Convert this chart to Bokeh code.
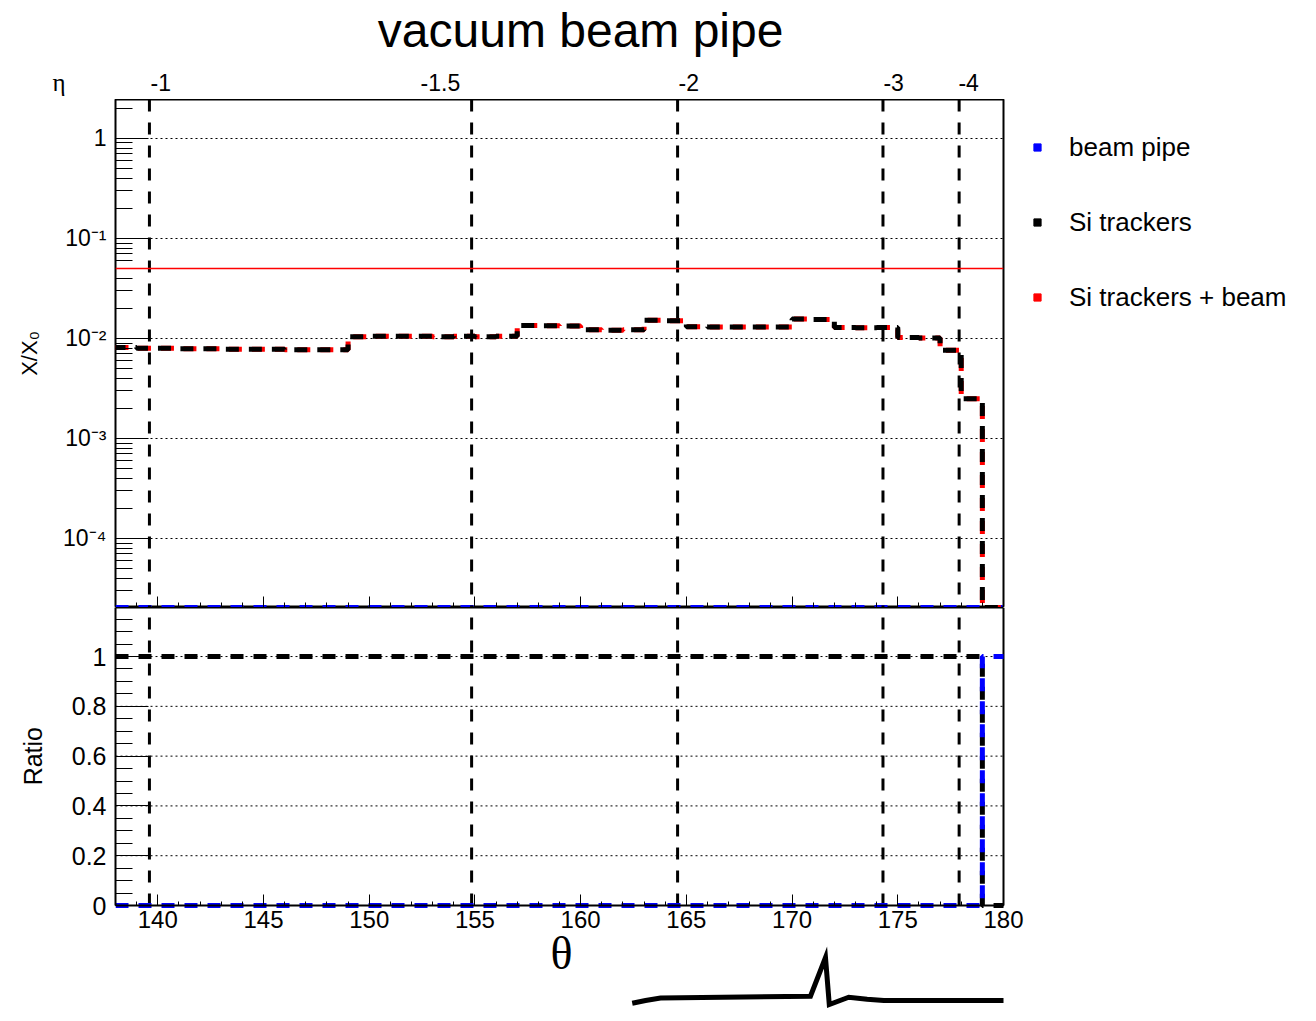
import math

from bokeh.core.properties import value
from bokeh.embed import file_html
from bokeh.layouts import column
from bokeh.models import FixedTicker, Label, Legend, LegendItem, LinearAxis, Range1d, Span
from bokeh.plotting import figure
from bokeh.resources import INLINE

# ---------------------------------------------------------------- data ----
# polar-angle bin edges in degrees (1-degree bins)
theta_edges = list(range(138, 181))

# material budget X/X0 per bin
si_trackers = [
    0.0081, 0.0080, 0.0080, 0.0079, 0.0079, 0.0078, 0.0078, 0.0078, 0.0077, 0.0077, 0.0077,
    0.0104, 0.0105, 0.0105, 0.0105, 0.0104, 0.0105, 0.0104, 0.0105,
    0.0135, 0.0134, 0.0133,
    0.0122, 0.0121, 0.0122,
    0.0152, 0.0150,
    0.0131, 0.0130, 0.0130, 0.0130, 0.0130,
    0.0156, 0.0155,
    0.0129, 0.0128, 0.0129,
    0.0102, 0.0101,
    0.0076,
    0.0025,
    0.0,
]
si_trackers_beam = [
    0.0081, 0.0080, 0.0080, 0.0079, 0.0079, 0.0078, 0.0078, 0.0078, 0.0077, 0.0077, 0.0077,
    0.0104, 0.0105, 0.0105, 0.0105, 0.0104, 0.0105, 0.0104, 0.0105,
    0.0135, 0.0134, 0.0133,
    0.0122, 0.0121, 0.0122,
    0.0152, 0.0150,
    0.0131, 0.0130, 0.0130, 0.0130, 0.0130,
    0.0156, 0.0155,
    0.0129, 0.0128, 0.0129,
    0.0102, 0.0101,
    0.0076,
    0.0025,
    0.0,
]
beam_pipe = [0.0] * 42

# ratios to the total
ratio_si = [1.0] * 41 + [0.0]
ratio_beam = [0.0] * 41 + [1.0]

# pseudorapidity markers and their labels (labels start at eta_text_theta)
eta_marks = [-1.0, -1.5, -2.0, -3.0, -4.0]
eta_text = ["-1", "-1.5", "-2", "-3", "-4"]
eta_text_theta = [139.66, 152.43, 164.63, 174.32, 177.87]

budget_limit = 0.05

x_ticks = [140, 145, 150, 155, 160, 165, 170, 175, 180]
decade_ticks = [1e-4, 1e-3, 1e-2, 1e-1, 1.0]
decade_text = ["10\u207b\u2074", "10\u207b\u00b3", "10\u207b\u00b2", "10\u207b\u00b9", "1"]
ratio_ticks = [0.0, 0.2, 0.4, 0.6, 0.8, 1.0]
ratio_text = ["0", "0.2", "0.4", "0.6", "0.8", "1"]

# pen trace below the theta axis (height within the bottom strip, 0..1)
trace_theta = [162.44, 163.07, 163.78, 170.87, 171.58, 171.76, 172.68, 173.55, 174.34, 180.0]
trace_y = [0.218, 0.250, 0.280, 0.301, 0.762, 0.202, 0.289, 0.265, 0.250, 0.250]

# -------------------------------------------------------------- styling ---
SANS = "Liberation Sans"
SERIF = "Liberation Serif"
X_LO, X_HI = 138, 180
Y_LO, Y_HI = 2.04e-5, 2.45
R_LO, R_HI = 0.0, 1.197
DASH = "13 10"
GRID_DASH = "2 3"
LEFT, FRAME_W, RIGHT, SPILL = 115, 888, 313, 32
HEAD_H, TOP_H, RATIO_H, FOOT_H, STRIP_H = 99, 508, 298, 116, 84
PX_PER_DEG = FRAME_W / (X_HI - X_LO)
RATIO_TITLE_AT = 0.717   # rotated title ends here, so it is centred on the box
NAN = float("nan")

eta_theta = [2.0 * math.degrees(math.atan(math.exp(-e))) for e in eta_marks]
log_minor = [k * 10.0 ** e for e in range(-5, 1) for k in range(2, 10)
             if Y_LO <= k * 10.0 ** e <= Y_HI]
ratio_minor = [round(0.05 * i, 2) for i in range(0, 24)]


def step_xy(vals, floor):
    y = [v if v > floor else floor for v in vals]
    return theta_edges, y + [y[-1]]


def style_ticks(ax, size, tick_in, minor_in, standoff):
    ax.axis_line_color = None
    ax.major_tick_out = 0
    ax.minor_tick_out = 0
    ax.major_tick_in = tick_in
    ax.minor_tick_in = minor_in
    ax.major_tick_line_color = "black"
    ax.minor_tick_line_color = "black"
    ax.major_tick_line_width = 1
    ax.minor_tick_line_width = 1
    ax.major_label_text_font = SANS
    ax.major_label_text_font_size = size
    ax.major_label_text_color = "black"
    ax.major_label_standoff = standoff


def style_title(ax, text, size, standoff):
    ax.axis_label = text
    ax.axis_label_text_font = SANS
    ax.axis_label_text_font_size = size
    ax.axis_label_text_font_style = "normal"
    ax.axis_label_text_color = "black"
    ax.axis_label_standoff = standoff


def bare(p):
    p.outline_line_color = None
    p.background_fill_color = "white"
    p.border_fill_color = "white"
    p.grid.visible = False


xr = Range1d(X_LO, X_HI)

# ------------------------------------------------ header: title and eta ---
p0 = figure(frame_width=FRAME_W, frame_height=HEAD_H, x_range=xr, y_range=Range1d(0, HEAD_H),
            x_axis_location=None, output_backend="svg", toolbar_location=None,
            min_border_left=LEFT, min_border_right=RIGHT, min_border_top=0, min_border_bottom=0)
bare(p0)
# the eta axis symbol sits left of the frame, as the label of a single tick
p0.yaxis.ticker = FixedTicker(ticks=[17])
p0.yaxis.major_label_overrides = {17: "\u03b7"}
style_ticks(p0.yaxis[0], "25px", 0, 0, 50)
p0.yaxis.major_label_text_font = SERIF
p0.yaxis.major_tick_line_color = None
p0.yaxis.minor_tick_line_color = None

p0.text(x=[160.0], y=[69], text=["vacuum beam pipe"], text_font=value(SANS),
        text_font_size=value("48px"), text_align="center", text_baseline="middle",
        text_color="black")
p0.text(x=eta_text_theta, y=[17] * len(eta_text), text=eta_text, text_font=value(SANS),
        text_font_size=value("23px"), text_align="left", text_baseline="middle",
        text_color="black")

# ------------------------------------------------------- X/X0 panel -------
p1 = figure(frame_width=FRAME_W, frame_height=TOP_H, x_range=xr, y_range=Range1d(Y_LO, Y_HI),
            y_axis_type="log", output_backend="svg", toolbar_location=None,
            min_border_left=LEFT, min_border_right=RIGHT, min_border_top=0, min_border_bottom=0)
p1.outline_line_color = "black"
p1.outline_line_width = 2
p1.background_fill_color = "white"
p1.border_fill_color = "white"

yt = FixedTicker(ticks=decade_ticks, minor_ticks=log_minor)
p1.yaxis.ticker = yt
p1.ygrid.ticker = yt
p1.yaxis.major_label_overrides = dict(zip(decade_ticks, decade_text))
style_ticks(p1.yaxis[0], "23px", 33, 17, 9)
style_title(p1.yaxis[0], "X/X\u2080", "22px", 18)

p1.xaxis.ticker = FixedTicker(ticks=x_ticks, minor_ticks=theta_edges)
p1.xaxis.fixed_location = Y_LO
style_ticks(p1.xaxis[0], "23px", 11, 5, 0)
p1.xaxis.major_label_text_color = None

p1.xgrid.visible = False
p1.ygrid.grid_line_color = "black"
p1.ygrid.grid_line_dash = GRID_DASH
p1.ygrid.grid_line_width = 1

for t in eta_theta:
    p1.add_layout(Span(location=t, dimension="height", line_color="black",
                       line_width=3, line_dash="12 11"))
p1.add_layout(Span(location=budget_limit, dimension="width", line_color="red", line_width=1.5))

bx, by = step_xy(beam_pipe, Y_LO)
p1.step(bx, by, mode="after", line_color="blue", line_width=5, line_dash=DASH)
rx, ry = step_xy(si_trackers_beam, Y_LO)
p1.step(rx, ry, mode="after", line_color="red", line_width=5, line_dash=DASH)
kx, ky = step_xy(si_trackers, Y_LO)
p1.step(kx, ky, mode="after", line_color="black", line_width=5, line_dash=DASH,
        line_dash_offset=3)

# legend with small square keys, to the right of the frame
key_beam = p1.scatter([NAN], [NAN], marker="square", size=7, color="blue")
key_si = p1.scatter([NAN], [NAN], marker="square", size=7, color="black")
key_tot = p1.scatter([NAN], [NAN], marker="square", size=7, color="red")
legend = Legend(items=[LegendItem(label="beam pipe", renderers=[key_beam]),
                       LegendItem(label="Si trackers", renderers=[key_si]),
                       LegendItem(label="Si trackers + beam", renderers=[key_tot])],
                location="top_left", orientation="vertical",
                glyph_width=18, glyph_height=46, label_height=46, spacing=29,
                padding=0, margin=25, label_standoff=23,
                border_line_color=None, background_fill_alpha=0,
                label_text_font=SANS, label_text_font_size="26px", label_text_color="black")
p1.add_layout(legend, "right")

# ---------------------------- ratio panel, theta labels and pen trace -----
# one frame from the ratio panel down to the page bottom (and a little past
# theta = 180 so that the last tick label has room); the ratio box itself is
# drawn between X_LO..X_HI and R_LO..R_HI
ratio_px = RATIO_H / (R_HI - R_LO)
p2 = figure(frame_width=FRAME_W + SPILL, frame_height=RATIO_H + FOOT_H,
            x_range=Range1d(X_LO, X_HI + SPILL / PX_PER_DEG),
            y_range=Range1d(R_LO - FOOT_H / ratio_px, R_HI),
            output_backend="svg", toolbar_location=None,
            min_border_left=LEFT, min_border_right=RIGHT - SPILL,
            min_border_top=0, min_border_bottom=0)
bare(p2)
p2.extra_y_ranges = {"strip": Range1d(0, (RATIO_H + FOOT_H) / STRIP_H)}

left_ax = p2.yaxis[0]
left_ax.ticker = FixedTicker(ticks=ratio_ticks, minor_ticks=ratio_minor)
left_ax.major_label_overrides = dict(zip(ratio_ticks, ratio_text))
style_ticks(left_ax, "25px", 33, 17, 9)
left_ax.bounds = (R_LO, R_HI)
left_ax.axis_line_color = "black"
left_ax.axis_line_width = 2

# axis title of the ratio box
title_ax = LinearAxis(ticker=FixedTicker(ticks=[RATIO_TITLE_AT]),
                      major_label_overrides={RATIO_TITLE_AT: "Ratio"},
                      major_label_orientation=math.pi / 2, bounds=(R_LO, R_HI))
style_ticks(title_ax, "25px", 0, 0, 35)
title_ax.major_tick_line_color = None
title_ax.minor_tick_line_color = None
p2.add_layout(title_ax, "left")

bottom_ax = p2.xaxis[0]
bottom_ax.ticker = FixedTicker(ticks=x_ticks, minor_ticks=theta_edges)
bottom_ax.fixed_location = R_LO
bottom_ax.bounds = (X_LO, X_HI)
style_ticks(bottom_ax, "24px", 11, 4, 5)
bottom_ax.axis_line_color = "black"
bottom_ax.axis_line_width = 2

top_ax = LinearAxis(ticker=FixedTicker(ticks=[]), bounds=(X_LO, X_HI),
                    axis_line_color="black", axis_line_width=2,
                    major_tick_line_color=None, minor_tick_line_color=None,
                    major_label_text_color=None)
p2.add_layout(top_ax, "above")

# right edge of the ratio box and its dotted grid
p2.segment(x0=[X_HI], y0=[R_LO], x1=[X_HI], y1=[R_HI], line_color="black", line_width=2)
grid_levels = ratio_ticks[1:]
p2.segment(x0=[X_LO] * len(grid_levels), y0=grid_levels, x1=[X_HI] * len(grid_levels),
           y1=grid_levels, line_color="black", line_width=1, line_dash=GRID_DASH)

n_eta = len(eta_theta)
p2.segment(x0=eta_theta, y0=[R_LO] * n_eta, x1=eta_theta, y1=[R_HI] * n_eta,
           line_color="black", line_width=3, line_dash="12 11")

sx, sy = step_xy(ratio_si, R_LO)
p2.step(sx, sy, mode="after", line_color="black", line_width=5, line_dash=DASH)
qx, qy = step_xy(ratio_beam, R_LO)
p2.step(qx, qy, mode="after", line_color="blue", line_width=5, line_dash=DASH)

p2.line(trace_theta, trace_y, y_range_name="strip", line_color="black", line_width=5,
        line_join="miter")
p2.add_layout(Label(x=446, y=68, x_units="screen", y_units="screen", text="\u03b8",
                    text_font=SERIF, text_font_size="46px", text_align="center",
                    text_baseline="middle", text_color="black"))

layout = column(p0, p1, p2, spacing=0)
open("out.html", "w").write(file_html(layout, INLINE, title="vacuum beam pipe"))
